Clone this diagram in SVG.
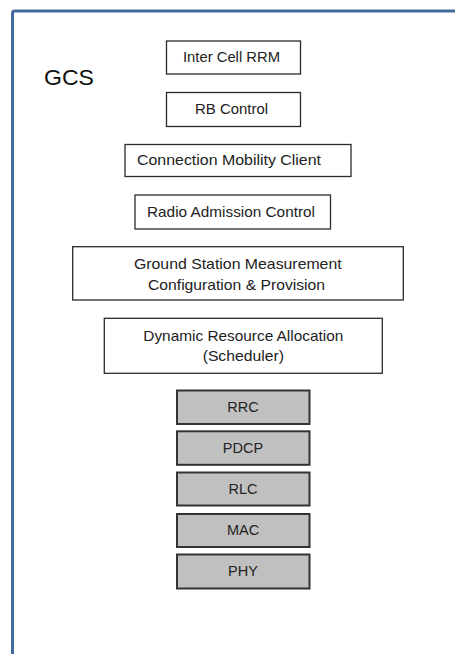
<svg xmlns="http://www.w3.org/2000/svg" width="455" height="654" viewBox="0 0 455 654">
<style>
  .frame{fill:none;stroke:#44699b;stroke-width:3}
  .box{fill:#ffffff;stroke:#2b2b2b;stroke-width:1.3}
  .layer{fill:#c0c0c0;stroke:#333333;stroke-width:2}
  text{font-family:"Liberation Sans",Arial,sans-serif;font-size:14.5px;fill:#222222;text-anchor:middle}
  .title{font-size:22px;text-anchor:start;fill:#111111}
</style>
<rect width="455" height="654" fill="#ffffff"/>
<g id="gcs-frame">
  <rect class="frame" x="12.5" y="11" width="460" height="680" rx="2"/>
  <text class="title" x="44" y="85" textLength="50" lengthAdjust="spacingAndGlyphs">GCS</text>
</g>
<g id="inter-cell-rrm">
  <rect class="box" x="166.5" y="41" width="134" height="33"/>
  <text x="231.5" y="62" textLength="97" lengthAdjust="spacingAndGlyphs">Inter Cell RRM</text>
</g>
<g id="rb-control">
  <rect class="box" x="166.5" y="92.5" width="134" height="34"/>
  <text x="231.5" y="113.5" textLength="73" lengthAdjust="spacingAndGlyphs">RB Control</text>
</g>
<g id="connection-mobility-client">
  <rect class="box" x="125" y="144.5" width="226" height="32"/>
  <text x="229" y="165.3" textLength="184" lengthAdjust="spacingAndGlyphs">Connection Mobility Client</text>
</g>
<g id="radio-admission-control">
  <rect class="box" x="135" y="195" width="195.5" height="34"/>
  <text x="231" y="216.7" textLength="168" lengthAdjust="spacingAndGlyphs">Radio Admission Control</text>
</g>
<g id="ground-station-measurement">
  <rect class="box" x="72.7" y="246.7" width="330.6" height="53.3"/>
  <text x="237.8" y="269" textLength="207.7" lengthAdjust="spacingAndGlyphs">Ground Station  Measurement</text>
  <text x="236.5" y="290" textLength="177" lengthAdjust="spacingAndGlyphs">Configuration &amp; Provision</text>
</g>
<g id="dynamic-resource-allocation">
  <rect class="box" x="104.3" y="318.3" width="278" height="55"/>
  <text x="243.3" y="340.5" textLength="200" lengthAdjust="spacingAndGlyphs">Dynamic Resource Allocation</text>
  <text x="243.3" y="361" textLength="81.3" lengthAdjust="spacingAndGlyphs">(Scheduler)</text>
</g>
<g id="rrc">
  <rect class="layer" x="177" y="390.5" width="132.5" height="33.5"/>
  <text x="243" y="411.7">RRC</text>
</g>
<g id="pdcp">
  <rect class="layer" x="177" y="431.3" width="132.5" height="33.5"/>
  <text x="243" y="453">PDCP</text>
</g>
<g id="rlc">
  <rect class="layer" x="177" y="472.5" width="132.5" height="33"/>
  <text x="243" y="494">RLC</text>
</g>
<g id="mac">
  <rect class="layer" x="177" y="514" width="132.5" height="33"/>
  <text x="243" y="535">MAC</text>
</g>
<g id="phy">
  <rect class="layer" x="177" y="554.5" width="132.5" height="34"/>
  <text x="243" y="576">PHY</text>
</g>
<g id="connectors"></g>
</svg>
